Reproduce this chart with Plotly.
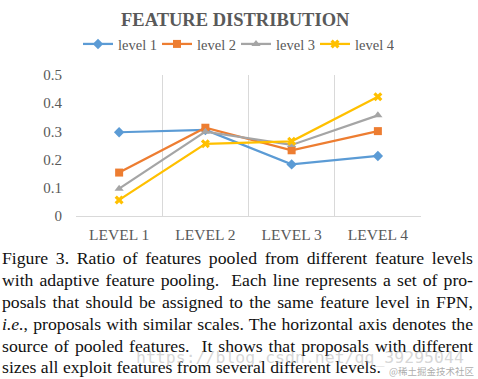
import plotly.graph_objects as go

categories = ["LEVEL 1", "LEVEL 2", "LEVEL 3", "LEVEL 4"]
series_names = ["level 1", "level 2", "level 3", "level 4"]
level1 = [0.297, 0.305, 0.183, 0.213]
level2 = [0.154, 0.313, 0.233, 0.301]
level3 = [0.097, 0.299, 0.252, 0.357]
level4 = [0.057, 0.256, 0.265, 0.423]
y_ticks = [0, 0.1, 0.2, 0.3, 0.4, 0.5]
y_ticklabels = ["0", "0.1", "0.2", "0.3", "0.4", "0.5"]

caption_lines = [
    "Figure 3. Ratio of features pooled from different feature levels",
    "with adaptive feature pooling.  Each line represents a set of pro-",
    "posals that should be assigned to the same feature level in FPN,",
    "<i>i.e.</i>, proposals with similar scales. The horizontal axis denotes the",
    "source of pooled features.  It shows that proposals with different",
    "sizes all exploit features from several different levels.",
]

colors = ["#5B9BD5", "#ED7D31", "#A5A5A5", "#FFC000"]
symbols = ["diamond", "square", "triangle-up", "x"]
W, H = 478, 379
L, R, T, B = 76, 421, 75, 216

fig = go.Figure()
for name, vals, c, s in zip(series_names, [level1, level2, level3, level4], colors, symbols):
    fig.add_trace(go.Scatter(
        x=categories, y=vals, name=name, mode="lines+markers",
        line=dict(color=c, width=2.25),
        marker=dict(symbol=s, size=8, color=c),
    ))

def px_x(px):
    return (px - L) / (R - L)

def px_y(py):
    return (B - py) / (B - T)

serif = "Liberation Serif"
annotations = [
    dict(text="<b>FEATURE DISTRIBUTION</b>", x=px_x(235), y=px_y(20), xref="paper", yref="paper",
         showarrow=False, xanchor="center", yanchor="middle",
         font=dict(family=serif, size=18.5, color="#595959")),
]
caption_y = [257.5, 279.5, 301.5, 323.5, 345.5, 367]
for line, cy in zip(caption_lines, caption_y):
    annotations.append(dict(text=line, x=px_x(0), y=px_y(cy), xref="paper", yref="paper",
                            showarrow=False, xanchor="left", yanchor="middle", align="left",
                            font=dict(family=serif, size=17.7, color="#111111")))
annotations.append(dict(text="https://blog.csdn.net/qq_39295044", x=px_x(300), y=px_y(357),
                        xref="paper", yref="paper", showarrow=False, xanchor="center", yanchor="middle",
                        font=dict(family="DejaVu Sans Mono", size=16.5, color="rgba(180,180,180,0.55)")))
annotations.append(dict(text="@稀土掘金技术社区", x=px_x(476), y=px_y(371),
                        xref="paper", yref="paper", showarrow=False, xanchor="right", yanchor="middle",
                        font=dict(family="Noto Sans CJK SC", size=9.5, color="rgba(150,150,150,0.8)")))

fig.update_layout(
    width=W, height=H,
    margin=dict(l=L, r=W - R, t=T, b=H - B, pad=0),
    paper_bgcolor="white", plot_bgcolor="white",
    showlegend=True,
    legend=dict(orientation="h", x=px_x(236), y=px_y(44), xanchor="center", yanchor="middle",
                font=dict(family=serif, size=14.5, color="#595959"),
                entrywidth=34, entrywidthmode="pixels",
                itemwidth=30, tracegroupgap=0, bgcolor="rgba(0,0,0,0)"),
    annotations=annotations,
    xaxis=dict(type="category", range=[-0.5, 3.5], tickson="boundaries",
               showgrid=True, gridcolor="#D9D9D9", gridwidth=1,
               showline=True, linecolor="#D9D9D9", linewidth=1, mirror=False,
               ticks="", ticklabelstandoff=4,
               tickfont=dict(family=serif, size=15.5, color="#595959"), fixedrange=True),
    yaxis=dict(range=[0, 0.5], tickvals=y_ticks, ticktext=y_ticklabels,
               showgrid=False, zeroline=False, showline=False, ticks="",
               ticklabelstandoff=13,
               tickfont=dict(family=serif, size=15, color="#595959"), fixedrange=True),
)

# remove the page margin and justify the caption lines (all but the last)
post_js = """
document.body.style.margin = '0';
document.body.style.overflow = 'hidden';
var gdiv = document.querySelector('.js-plotly-plot');
gdiv.querySelectorAll('g.annotation').forEach(function(g){
  var i = +g.getAttribute('data-index');
  if (i >= 1 && i <= 5) {
    var t = g.querySelector('text.annotation-text');
    var n = (t.textContent.match(/ /g) || []).length;
    var w = t.getComputedTextLength();
    if (n > 0) { t.style.wordSpacing = ((471 - w) / n) + 'px'; }
  }
});
"""
fig.write_html("out.html", post_script=post_js, config={"displayModeBar": False})
